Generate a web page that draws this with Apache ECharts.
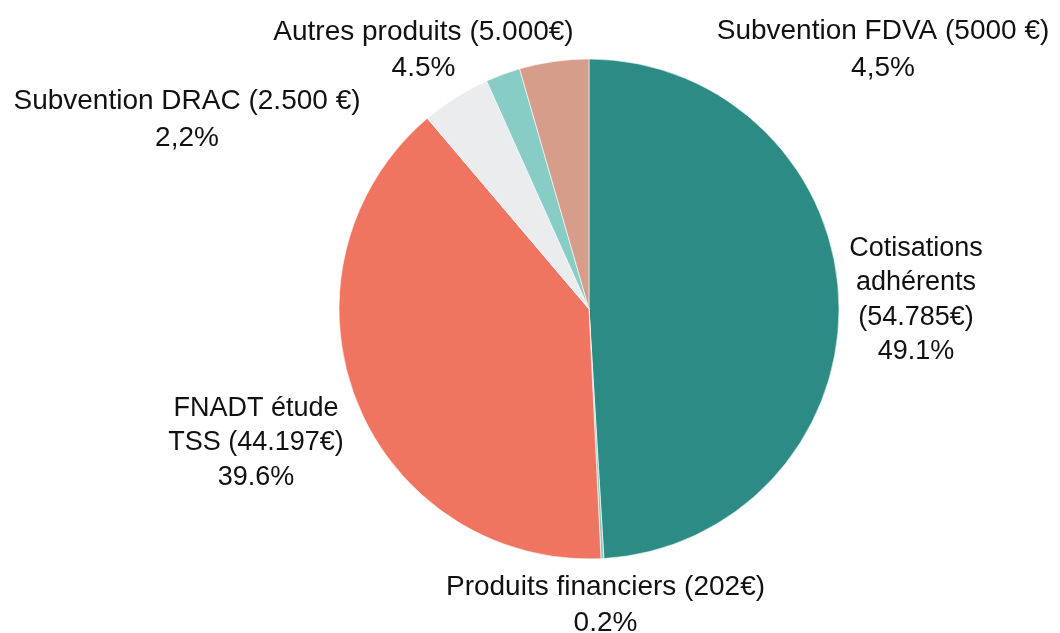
<!DOCTYPE html>
<html>
<head>
<meta charset="utf-8">
<script src="https://cdn.jsdelivr.net/npm/echarts@6/dist/echarts.min.js"></script>
<style>
html,body{margin:0;padding:0;background:#fff;}
#chart{width:1060px;height:633px;}
</style>
</head>
<body>
<div id="chart"></div>
<script>
var categories = ["Cotisations adhérents", "Produits financiers", "FNADT étude TSS", "Autres produits", "Subvention DRAC", "Subvention FDVA"];
var values = [54785, 202, 44197, 5000, 2500, 5000];
var labels = [
  "Cotisations\nadhérents\n(54.785€)\n49.1%",
  "Produits financiers (202€)\n0.2%",
  "FNADT étude\nTSS (44.197€)\n39.6%",
  "Autres produits (5.000€)\n4.5%",
  "Subvention DRAC (2.500 €)\n2,2%",
  "Subvention FDVA (5000 €)\n4,5%"
];
var colors = ["#2D8B85", "#86CDBF", "#EF7560", "#EBECEE", "#88CCC6", "#D69E8A"];
// label placement (centre of each label block) and text size: styling only
var labelPos = [[916, 300], [605.5, 605], [256, 443], [423.5, 50], [187, 120], [883, 50]];
var labelSize = [[27, 34.5], [28, 36], [27, 34.5], [28, 36], [28, 36.5], [28, 37]];

var chart = echarts.init(document.getElementById('chart'));
chart.setOption({
  animation: false,
  series: [{
    type: 'pie',
    center: [589, 309],
    radius: 250,
    startAngle: 90,
    clockwise: true,
    avoidLabelOverlap: false,
    emphasis: {disabled: true},
    itemStyle: {borderColor: '#ffffff', borderWidth: 0.6},
    label: {
      show: true,
      position: 'outside',
      color: '#111',
      fontFamily: '"Liberation Sans", Arial, Helvetica, sans-serif',
      fontSize: 27,
      lineHeight: 36,
      align: 'center',
      formatter: function (p) { return labels[p.dataIndex]; }
    },
    labelLine: {show: false},
    labelLayout: function (params) {
      var pos = labelPos[params.dataIndex];
      return {x: pos[0], y: pos[1], align: 'center', verticalAlign: 'middle', hideOverlap: false};
    },
    data: categories.map(function (c, i) {
      return {
        name: c,
        value: values[i],
        itemStyle: {color: colors[i]},
        label: {fontSize: labelSize[i][0], lineHeight: labelSize[i][1]}
      };
    })
  }]
});
</script>
</body>
</html>
